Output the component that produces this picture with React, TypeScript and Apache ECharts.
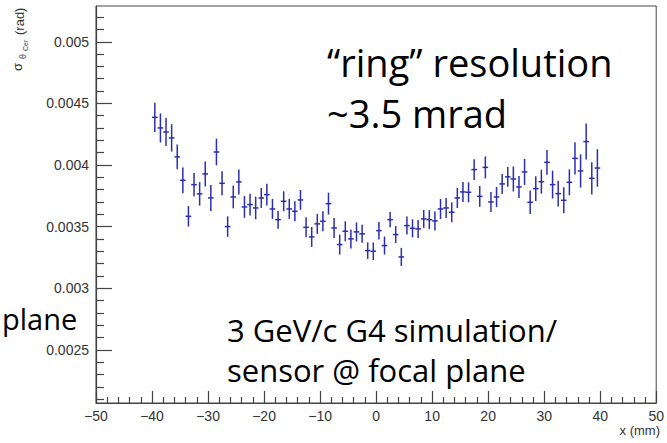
import React, { useEffect, useRef } from "react";
import * as echarts from "echarts";

// bin centres (mm)
const xCenters = [
  -39.5, -38.5, -37.5, -36.5, -35.5, -34.5, -33.5, -32.5, -31.5, -30.5,
  -29.5, -28.5, -27.5, -26.5, -25.5, -24.5, -23.5, -22.5, -21.5, -20.5,
  -19.5, -18.5, -17.5, -16.5, -15.5, -14.5, -13.5, -12.5, -11.5, -10.5,
  -9.5, -8.5, -7.5, -6.5, -5.5, -4.5, -3.5, -2.5, -1.5, -0.5,
  0.5, 1.5, 2.5, 3.5, 4.5, 5.5, 6.5, 7.5, 8.5, 9.5,
  10.5, 11.5, 12.5, 13.5, 14.5, 15.5, 16.5, 17.5, 18.5, 19.5,
  20.5, 21.5, 22.5, 23.5, 24.5, 25.5, 26.5, 27.5, 28.5, 29.5,
  30.5, 31.5, 32.5, 33.5, 34.5, 35.5, 36.5, 37.5, 38.5, 39.5,
];

// sigma_theta_Cer (rad)
const sigma = [
  0.004387, 0.004301, 0.004268, 0.00422, 0.004066, 0.003876, 0.003584, 0.003841, 0.003766, 0.003928,
  0.003733, 0.004106, 0.003852, 0.003501, 0.003741, 0.003863, 0.00366, 0.003679, 0.003652, 0.003733,
  0.00376, 0.003644, 0.003557, 0.003706, 0.003644, 0.003625, 0.003717, 0.003495, 0.003417, 0.003523,
  0.003544, 0.003687, 0.00349, 0.003355, 0.003463, 0.003401, 0.003458, 0.003442, 0.003306, 0.003301,
  0.003468, 0.003347, 0.003557, 0.003436, 0.003255, 0.003509, 0.003487, 0.003482, 0.003563, 0.003557,
  0.003547, 0.003644, 0.003652, 0.003617, 0.003733, 0.003782, 0.003779, 0.003963, 0.003746, 0.003981,
  0.003701, 0.003741, 0.003847, 0.003904, 0.003887, 0.003822, 0.003944, 0.003698, 0.003809, 0.003865,
  0.004022, 0.003841, 0.003768, 0.003714, 0.00386, 0.004054, 0.003952, 0.00419, 0.003892, 0.003976,
];

// error on sigma (rad)
const sigmaErr = [
  0.000119, 0.000118, 0.000113, 0.000111, 0.0001, 0.000104, 0.000083, 0.000095, 0.000095, 0.000101,
  0.000105, 0.000108, 0.000097, 0.000083, 0.000092, 0.000101, 0.000088, 0.000089, 0.000091, 0.000081,
  0.000089, 0.000081, 0.000073, 0.000081, 0.000081, 0.000081, 0.000081, 0.000081, 0.000081, 0.000081,
  0.000081, 0.000089, 0.000081, 0.000081, 0.000081, 0.000077, 0.000077, 0.000073, 0.000067, 0.000071,
  0.000071, 0.000073, 0.000062, 0.000069, 0.000073, 0.000073, 0.000073, 0.000073, 0.000073, 0.000077,
  0.000077, 0.000081, 0.000081, 0.000081, 0.000081, 0.000081, 0.000081, 0.000085, 0.000085, 0.000089,
  0.000081, 0.000081, 0.000081, 0.000081, 0.000101, 0.000089, 0.000105, 0.000095, 0.000101, 0.000097,
  0.000101, 0.000113, 0.000105, 0.000105, 0.000105, 0.00013, 0.000135, 0.000146, 0.00013, 0.000152,
];

const yMajorTicks = [0.0025, 0.003, 0.0035, 0.004, 0.0045, 0.005];
const yMinorTicks = [
  0.0021, 0.0022, 0.0023, 0.0024, 0.0026, 0.0027, 0.0028, 0.0029,
  0.0031, 0.0032, 0.0033, 0.0034, 0.0036, 0.0037, 0.0038, 0.0039,
  0.0041, 0.0042, 0.0043, 0.0044, 0.0046, 0.0047, 0.0048, 0.0049,
  0.0051, 0.0052,
];

const X_MIN = -50;
const X_MAX = 50;
const X_STEP = 10;
const Y_MIN = 0.00207;
const Y_MAX = 0.00529;
const BIN_HALF = 0.5;

const POINT_COLOR = "#2d2db0";
const AXIS_COLOR = "#444";
const LABEL_COLOR = "#333";
const LABEL_FONT = "Liberation Sans";
const NOTE_FONT = "Open Sans";

export default function App() {
  const ref = useRef<HTMLDivElement>(null);

  useEffect(() => {
    if (!ref.current) return;
    const chart = echarts.init(ref.current, null, { renderer: "svg" });
    const data = xCenters.map((x, i) => [x, sigma[i], sigmaErr[i]]);

    const noteStyle = (text: string, size: number) => ({
      text,
      font: `${size}px "${NOTE_FONT}"`,
      fill: "#000",
      verticalAlign: "middle",
      textVerticalAlign: "middle",
    });

    const option: any = {
      animation: false,
      backgroundColor: "#fff",
      grid: {
        left: 96,
        right: 4,
        top: 6,
        bottom: 40,
        show: true,
        borderColor: AXIS_COLOR,
        borderWidth: 1,
        backgroundColor: "transparent",
      },
      xAxis: {
        type: "value",
        min: X_MIN,
        max: X_MAX,
        interval: X_STEP,
        axisLine: { show: true, onZero: false, lineStyle: { color: AXIS_COLOR, width: 1.2 } },
        axisTick: { show: true, inside: true, length: 12, lineStyle: { color: AXIS_COLOR, width: 1.2 } },
        minorTick: { show: true, splitNumber: 5, length: 6, lineStyle: { color: AXIS_COLOR, width: 1.2 } },
        splitLine: { show: false },
        axisLabel: {
          margin: 6,
          color: LABEL_COLOR,
          fontFamily: LABEL_FONT,
          fontSize: 14,
          formatter: (v: number) => (v < 0 ? "\u2212" + Math.abs(v) : String(v)),
        },
      },
      yAxis: [
        {
          type: "value",
          min: Y_MIN,
          max: Y_MAX,
          position: "left",
          axisLine: { show: true, onZero: false, lineStyle: { color: AXIS_COLOR, width: 1.2 } },
          axisTick: {
            show: true,
            inside: true,
            length: 16,
            customValues: yMajorTicks,
            lineStyle: { color: AXIS_COLOR, width: 1.2 },
          },
          splitLine: { show: false },
          axisLabel: {
            customValues: yMajorTicks,
            margin: 7,
            color: LABEL_COLOR,
            fontFamily: LABEL_FONT,
            fontSize: 14,
            formatter: (v: number) => String(+Number(v).toFixed(5)),
          },
        },
        {
          type: "value",
          min: Y_MIN,
          max: Y_MAX,
          position: "left",
          axisLine: { show: false, onZero: false },
          axisTick: {
            show: true,
            inside: true,
            length: 8,
            customValues: yMinorTicks,
            lineStyle: { color: AXIS_COLOR, width: 1.2 },
          },
          splitLine: { show: false },
          axisLabel: { show: false },
        },
      ],
      series: [
        {
          type: "custom",
          xAxisIndex: 0,
          yAxisIndex: 0,
          encode: { x: 0, y: 1 },
          data,
          renderItem: (params: any, api: any) => {
            const x = api.value(0);
            const y = api.value(1);
            const e = api.value(2);
            const top = api.coord([x, y + e]);
            const bot = api.coord([x, y - e]);
            const l = api.coord([x - BIN_HALF, y]);
            const r = api.coord([x + BIN_HALF, y]);
            const style = { stroke: POINT_COLOR, lineWidth: 1.5 };
            return {
              type: "group",
              children: [
                { type: "line", shape: { x1: top[0], y1: top[1], x2: bot[0], y2: bot[1] }, style },
                { type: "line", shape: { x1: l[0], y1: l[1], x2: r[0], y2: r[1] }, style },
              ],
            };
          },
        },
      ],
      graphic: [
        {
          type: "group",
          x: 21,
          y: 71,
          rotation: Math.PI / 2,
          children: [
            { type: "text", x: 0, y: 3, style: { text: "σ", font: `13px "${LABEL_FONT}"`, fill: LABEL_COLOR, textVerticalAlign: "bottom", verticalAlign: "bottom" } },
            { type: "text", x: 12, y: 6, style: { text: "θ", font: `9px "${LABEL_FONT}"`, fill: LABEL_COLOR, textVerticalAlign: "bottom", verticalAlign: "bottom" } },
            { type: "text", x: 20, y: 8, style: { text: "Cer", font: `7px "${LABEL_FONT}"`, fill: LABEL_COLOR, textVerticalAlign: "bottom", verticalAlign: "bottom" } },
            { type: "text", x: 36, y: 4.5, style: { text: "(rad)", font: `13px "${LABEL_FONT}"`, fill: LABEL_COLOR, textVerticalAlign: "bottom", verticalAlign: "bottom" } },
          ],
        },
        {
          type: "text",
          right: 7,
          top: 424,
          style: { text: "x (mm)", font: `13px "${LABEL_FONT}"`, fill: LABEL_COLOR },
        },
        { type: "text", x: 327, y: 62, style: noteStyle("\u201Cring\u201D resolution", 38) },
        { type: "text", x: 327, y: 113, style: noteStyle("~3.5 mrad", 38) },
        { type: "text", x: 227, y: 330, style: noteStyle("3 GeV/c G4 simulation/", 31) },
        { type: "text", x: 227, y: 370, style: noteStyle("sensor @ focal plane", 31) },
        {
          type: "text",
          x: 2,
          y: 318,
          style: { ...noteStyle("plane", 29), align: "left", textAlign: "left" },
        },
      ],
    };

    chart.setOption(option);
    return () => chart.dispose();
  }, []);

  return (
    <div
      ref={ref}
      style={{ position: "absolute", left: 0, top: 0, width: 667, height: 443, background: "#fff" }}
    />
  );
}
